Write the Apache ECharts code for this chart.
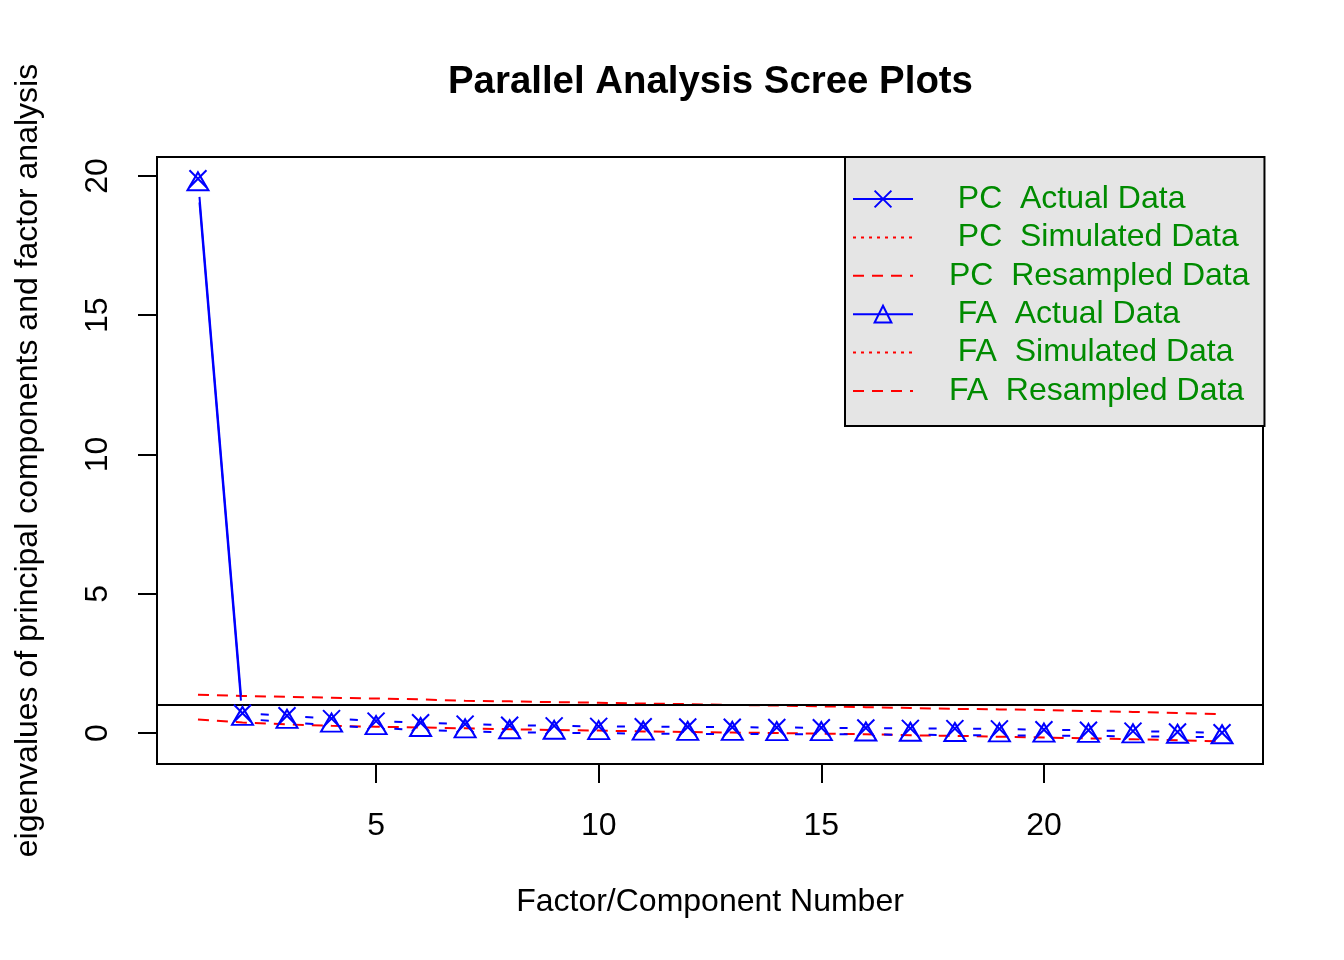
<!DOCTYPE html>
<html>
<head>
<meta charset="utf-8">
<script src="https://cdn.jsdelivr.net/npm/echarts@6/dist/echarts.min.js"></script>
<style>
html,body{margin:0;padding:0;background:#fff;}
#chart{width:1344px;height:960px;}
</style>
</head>
<body>
<div id="chart"></div>
<script>
// ---- data ----
const factorNumber = [1,2,3,4,5,6,7,8,9,10,11,12,13,14,15,16,17,18,19,20,21,22,23,24];
const pcActual = [19.9,0.71,0.62,0.52,0.43,0.37,0.32,0.28,0.26,0.24,0.23,0.22,0.21,0.20,0.19,0.18,0.17,0.16,0.15,0.12,0.10,0.07,0.04,0.01];
const faActual = [19.7,0.51,0.40,0.27,0.18,0.11,0.06,0.03,0.01,0.00,-0.02,-0.03,-0.03,-0.04,-0.04,-0.05,-0.06,-0.07,-0.08,-0.09,-0.10,-0.12,-0.13,-0.15];
const pcResampled = [1.38,1.33,1.30,1.27,1.24,1.21,1.16,1.14,1.11,1.09,1.06,1.04,1.01,0.99,0.96,0.93,0.90,0.87,0.85,0.83,0.79,0.76,0.72,0.68];
const faResampled = [0.49,0.38,0.31,0.26,0.23,0.20,0.17,0.14,0.11,0.09,0.06,0.04,0.02,0.00,-0.02,-0.04,-0.08,-0.10,-0.13,-0.16,-0.19,-0.22,-0.26,-0.30];
const pcSimulated = [];
const faSimulated = [];
const kaiserLine = 1;
const xTicks = [5,10,15,20];
const yTicks = [0,5,10,15,20];
const legendNames = ['  PC  Actual Data','  PC  Simulated Data',' PC  Resampled Data','  FA  Actual Data','  FA  Simulated Data',' FA  Resampled Data'];
const titleText = 'Parallel Analysis Scree Plots';
const xTitle = 'Factor/Component Number';
const yTitle = 'eigenvalues of principal components and factor analysis';

const FONT = '"Liberation Sans", Arial, Helvetica, sans-serif';
const BLUE = '#0000FF', RED = '#FF0000';
const pairs = arr => arr.map((v,i) => [factorNumber[i], v]);

const chart = echarts.init(document.getElementById('chart'), null, {renderer:'canvas'});

const noSymbol = {color:'transparent', borderColor:'transparent', borderWidth:0, opacity:0};

const option = {
  backgroundColor:'#ffffff',
  animation:false,
  textStyle:{fontFamily:FONT},
  title:{
    text:titleText, left:448, top:63, padding:0,
    textStyle:{fontFamily:FONT, fontSize:38.4, fontWeight:'bold', color:'#000'}
  },
  grid:{left:157, top:157, width:1106, height:607, show:true, borderColor:'#000', borderWidth:2, backgroundColor:'transparent', containLabel:false},
  xAxis:{
    type:'value', min:0.08, max:24.92,
    name:xTitle, nameLocation:'middle', nameGap:122,
    nameTextStyle:{fontFamily:FONT, fontSize:32, color:'#000'},
    axisLine:{show:false, onZero:false},
    axisTick:{show:true, inside:false, length:19, lineStyle:{color:'#000', width:2}, customValues:xTicks},
    axisLabel:{show:true, fontFamily:FONT, fontSize:32, color:'#000', margin:46, customValues:xTicks},
    splitLine:{show:false}
  },
  yAxis:{
    type:'value', min:-1.11, max:20.68,
    name:yTitle, nameLocation:'middle', nameGap:113, nameRotate:90,
    nameTextStyle:{fontFamily:FONT, fontSize:32, color:'#000'},
    axisLine:{show:false, onZero:false},
    axisTick:{show:true, inside:false, length:19, lineStyle:{color:'#000', width:2}, customValues:yTicks},
    axisLabel:{show:true, fontFamily:FONT, fontSize:32, color:'#000', margin:43, rotate:90, customValues:yTicks},
    splitLine:{show:false}
  },
  legend:{
    orient:'vertical', left:845, top:157,
    padding:[26,15,19,7],
    backgroundColor:'#E5E5E5', borderColor:'#000', borderWidth:2, borderRadius:0,
    itemWidth:60, itemHeight:21, itemGap:6.4,
    selectedMode:false,
    textStyle:{fontFamily:FONT, fontSize:32, color:'#008B00', lineHeight:32, padding:[0,0,0,22]},
    data:[
      {name:legendNames[0], lineStyle:{type:'solid'}},
      {name:legendNames[1], itemStyle:noSymbol},
      {name:legendNames[2], itemStyle:noSymbol},
      {name:legendNames[3], lineStyle:{type:'solid'}},
      {name:legendNames[4], itemStyle:noSymbol},
      {name:legendNames[5], itemStyle:noSymbol}
    ]
  },
  series:[
    {
      id:'pcA', name:legendNames[0], type:'line', data:pairs(pcActual),
      symbol:'path://M0,0L10,10M10,0L0,10', symbolSize:17,
      itemStyle:{color:'transparent', borderColor:BLUE, borderWidth:2},
      lineStyle:{color:BLUE, width:2, type:'solid'}, z:5
    },
    {
      id:'pcS', name:legendNames[1], type:'line', data:pairs(pcSimulated), symbol:'none',
      itemStyle:{color:RED}, lineStyle:{color:RED, width:2, type:[3,5]}
    },
    {
      id:'pcR', name:legendNames[2], type:'line', data:pairs(pcResampled), symbol:'none',
      itemStyle:{color:RED}, lineStyle:{color:RED, width:2, type:[11,8]}
    },
    {
      id:'faA', name:legendNames[3], type:'line', data:pairs(faActual),
      symbol:'triangle', symbolSize:[21,18], symbolOffset:[0,-3],
      itemStyle:{color:'transparent', borderColor:BLUE, borderWidth:2},
      lineStyle:{color:BLUE, width:2, type:'solid'}, z:5
    },
    {
      id:'faS', name:legendNames[4], type:'line', data:pairs(faSimulated), symbol:'none',
      itemStyle:{color:RED}, lineStyle:{color:RED, width:2, type:[3,5]}
    },
    {
      id:'faR', name:legendNames[5], type:'line', data:pairs(faResampled), symbol:'none',
      itemStyle:{color:RED}, lineStyle:{color:RED, width:2, type:[11,8]},
      markLine:{
        silent:true, symbol:['none','none'], label:{show:false},
        lineStyle:{color:'#000', width:2, type:'solid'},
        emphasis:{disabled:true},
        data:[{yAxis:kaiserLine}]
      }
    }
  ]
};
chart.setOption(option);

// R's type="b": line segments stop short of each point
function gapDash(values, gap){
  const pts = values.map((v,i) => chart.convertToPixel({gridIndex:0}, [factorNumber[i], v]));
  const arr = [0];
  let cum = 0, lastEnd = 0;
  for (let i = 1; i < pts.length; i++){
    const L = Math.hypot(pts[i][0]-pts[i-1][0], pts[i][1]-pts[i-1][1]);
    if (L > 2*gap){
      const a = cum + gap, b = cum + L - gap;
      arr.push(a - lastEnd, b - a);
      lastEnd = b;
    }
    cum += L;
  }
  arr.push(100000);
  return arr;
}
chart.setOption({
  series:[
    {id:'pcA', lineStyle:{type:gapDash(pcActual, 18.25)}},
    {id:'faA', lineStyle:{type:gapDash(faActual, 18.25)}}
  ]
});
</script>
</body>
</html>
